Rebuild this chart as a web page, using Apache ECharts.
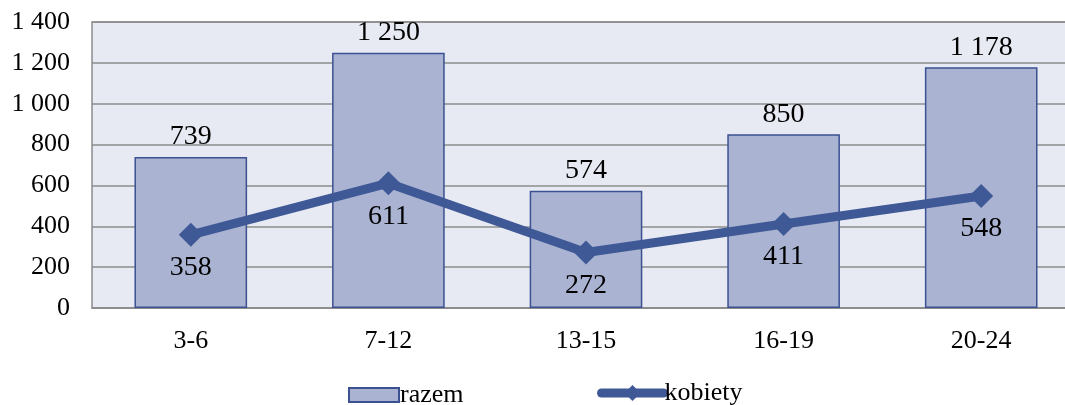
<!DOCTYPE html>
<html>
<head>
<meta charset="utf-8">
<script src="https://cdn.jsdelivr.net/npm/echarts@6/dist/echarts.min.js"></script>
<style>
  html, body { margin: 0; padding: 0; background: #fff; overflow: hidden; }
  /* obszar wykresu wychodzi poza prawą krawędź, jak w oryginale */
  #chart { width: 1080px; height: 405px; }
</style>
</head>
<body>
<div id="chart"></div>
<script>
// dane
const categories = ["3-6", "7-12", "13-15", "16-19", "20-24"];
const razem = [739, 1250, 574, 850, 1178];
const kobiety = [358, 611, 272, 411, 548];

const fontFamily = "'Liberation Serif', 'Times New Roman', serif";
// "1 400" - spacja jako separator tysięcy
const fmt = v => String(v).replace(/\B(?=(\d{3})+(?!\d))/g, " ");

const lineColor = "#3f5896";
const legendText = { fontFamily: fontFamily, fontSize: 26, color: "#000", padding: [0, 0, 0, -4] };

const chart = echarts.init(document.getElementById("chart"));
chart.setOption({
  animation: false,
  textStyle: { fontFamily: fontFamily },
  grid: {
    left: 92,
    right: 0,
    top: 22,
    bottom: 97,
    show: true,
    backgroundColor: "#e7eaf3",
    borderColor: "#8c8c8c",
    borderWidth: 1.5
  },
  legend: [
    {
      top: 377,
      left: 343,
      itemWidth: 50,
      itemHeight: 14,
      textStyle: legendText,
      data: [{ name: "razem", icon: "rect" }]
    },
    {
      top: 375,
      left: 592,
      itemWidth: 62,
      itemHeight: 20,
      textStyle: legendText,
      data: [{ name: "kobiety", lineStyle: { width: 9, cap: "round" } }]
    }
  ],
  xAxis: {
    type: "category",
    data: categories,
    axisLine: { lineStyle: { color: "#8c8c8c", width: 1.5 } },
    axisTick: { show: false },
    axisLabel: { margin: 20, fontSize: 26, color: "#000", fontFamily: fontFamily }
  },
  yAxis: {
    type: "value",
    min: 0,
    max: 1400,
    interval: 200,
    axisLine: { show: false },
    axisTick: { show: false },
    axisLabel: {
      margin: 22,
      fontSize: 26,
      color: "#000",
      fontFamily: fontFamily,
      formatter: fmt
    },
    splitLine: { lineStyle: { color: "#8c8c8c", width: 1.5 } }
  },
  series: [
    {
      name: "razem",
      type: "bar",
      data: razem,
      barWidth: "57%",
      itemStyle: { color: "#aab3d2", borderColor: "#3b5191", borderWidth: 1.5 },
      label: {
        show: true,
        position: "top",
        distance: 6,
        fontSize: 28,
        color: "#000",
        fontFamily: fontFamily,
        formatter: p => fmt(p.value)
      }
    },
    {
      name: "kobiety",
      type: "line",
      data: kobiety,
      symbol: "diamond",
      symbolSize: 24,
      color: lineColor,
      lineStyle: { width: 9, color: lineColor },
      itemStyle: { color: lineColor },
      label: {
        show: true,
        position: "bottom",
        distance: 7,
        fontSize: 28,
        color: "#000",
        fontFamily: fontFamily
      }
    }
  ]
});
</script>
</body>
</html>
